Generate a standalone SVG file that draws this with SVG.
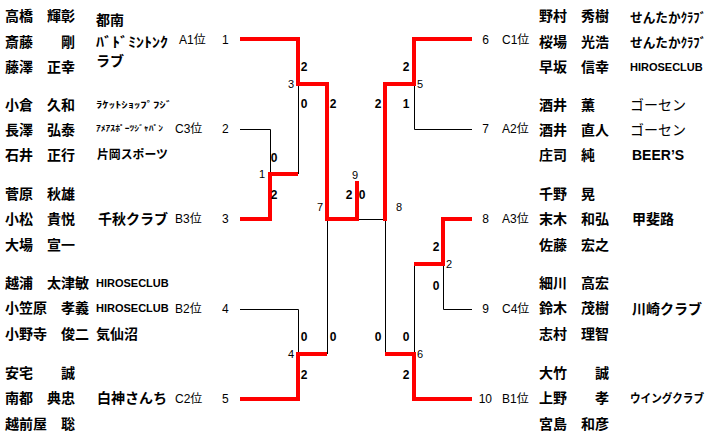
<svg xmlns="http://www.w3.org/2000/svg" width="713" height="439" viewBox="0 0 713 439">
<style>
.nm{font:bold 14px "Noto Sans CJK JP",sans-serif;fill:#000}
.tm{font:bold 14px "Noto Sans CJK JP",sans-serif;fill:#000}
.hw{font:bold 11px "Liberation Sans",sans-serif;fill:#000}
.sd{font:12px "Liberation Sans","Noto Sans CJK JP",sans-serif;fill:#000}
.sc{font:bold 12px "Liberation Sans",sans-serif;fill:#000;text-anchor:middle}
.nd{font:11px "Liberation Sans",sans-serif;fill:#000;text-anchor:middle}
.bk{fill:none;stroke:#000;stroke-width:1}
.rd{fill:none;stroke:#f00;stroke-width:4;stroke-linejoin:miter}
</style>
<rect width="713" height="439" fill="#fff"/>
<g id="connectors">
<path class="bk" d="M240 129.5H270.5V174M298.5 84V174M240 309.5H298.5V354M327.5 219V354M357 219.5H385M385.5 219V354M414.5 84V129.5H472M414.5 264V354M443.5 264V309.5H472"/>
<path class="rd" d="M240 39H298V84H327V219H357V181"/>
<path class="rd" d="M472 39H414V84H385V221"/>
<path class="rd" d="M240 219H270V174H298"/>
<path class="rd" d="M240 399H298V354H327"/>
<path class="rd" d="M472 219H443V264H414"/>
<path class="rd" d="M472 399H414V354H385"/>
</g>
<g id="scores">
<text class="sc" x="304" y="71">2</text>
<text class="nd" x="291" y="88">3</text>
<text class="sc" x="304" y="108">0</text>
<text class="sc" x="333" y="108">2</text>
<text class="sc" x="274" y="162">0</text>
<text class="nd" x="262" y="178">1</text>
<text class="sc" x="274" y="199">2</text>
<text class="nd" x="320" y="211">7</text>
<text class="nd" x="355" y="179">9</text>
<text class="sc" x="349" y="199">2</text>
<text class="sc" x="362" y="199">0</text>
<text class="nd" x="399" y="211">8</text>
<text class="sc" x="378" y="108">2</text>
<text class="sc" x="406" y="108">1</text>
<text class="sc" x="406" y="71">2</text>
<text class="nd" x="420" y="88">5</text>
<text class="sc" x="436" y="251">2</text>
<text class="nd" x="449" y="268">2</text>
<text class="sc" x="436" y="290">0</text>
<text class="sc" x="304" y="341">0</text>
<text class="sc" x="333" y="341">0</text>
<text class="sc" x="378" y="341">0</text>
<text class="sc" x="406" y="341">0</text>
<text class="nd" x="291" y="358">4</text>
<text class="nd" x="420" y="358">6</text>
<text class="sc" x="304" y="379">2</text>
<text class="sc" x="406" y="379">2</text>
</g>
<g id="team1">
<text class="nm" x="5" y="21">高橋　輝彰</text>
<text class="nm" x="5" y="47">斎藤　　剛</text>
<text class="nm" x="5" y="72">藤澤　正幸</text>
<text class="tm" x="96" y="25">都南</text>
<text class="tm" x="96" y="47" textLength="72" lengthAdjust="spacingAndGlyphs">ﾊﾞﾄﾞﾐﾝﾄﾝｸ</text>
<text class="tm" x="96" y="66">ラブ</text>
<text class="sd" x="179" y="44">A1位</text>
<text class="sd" x="222" y="44">1</text>
</g>
<g id="team2">
<text class="nm" x="5" y="110">小倉　久和</text>
<text class="nm" x="5" y="135">長澤　弘泰</text>
<text class="nm" x="5" y="160">石井　正行</text>
<text class="tm" x="96" y="108" style="font-size:9px" textLength="76" lengthAdjust="spacingAndGlyphs">ﾗｹｯﾄｼｮｯﾌﾟﾌｼﾞ</text>
<text class="tm" x="96" y="131" style="font-size:8px" textLength="67" lengthAdjust="spacingAndGlyphs">ｱﾒｱｽﾎﾟｰﾂｼﾞｬﾊﾟﾝ</text>
<text class="tm" x="97" y="159" style="font-size:12px" textLength="71" lengthAdjust="spacingAndGlyphs">片岡スポーツ</text>
<text class="sd" x="175" y="133">C3位</text>
<text class="sd" x="222" y="133">2</text>
</g>
<g id="team3">
<text class="nm" x="5" y="199">菅原　秋雄</text>
<text class="nm" x="5" y="224">小松　貴悦</text>
<text class="nm" x="5" y="250">大場　宣一</text>
<text class="tm" x="98" y="224">千秋クラブ</text>
<text class="sd" x="175" y="223">B3位</text>
<text class="sd" x="222" y="223">3</text>
</g>
<g id="team4">
<text class="nm" x="5" y="288">越浦　太津敏</text>
<text class="nm" x="5" y="313">小笠原　孝義</text>
<text class="nm" x="5" y="339">小野寺　俊二</text>
<text class="hw" x="96" y="287">HIROSECLUB</text>
<text class="hw" x="96" y="312">HIROSECLUB</text>
<text class="tm" x="96" y="339">気仙沼</text>
<text class="sd" x="175" y="313">B2位</text>
<text class="sd" x="222" y="313">4</text>
</g>
<g id="team5">
<text class="nm" x="5" y="378">安宅　　誠</text>
<text class="nm" x="5" y="403">南都　典忠</text>
<text class="nm" x="5" y="429">越前屋　聡</text>
<text class="tm" x="97" y="403">白神さんち</text>
<text class="sd" x="175" y="403">C2位</text>
<text class="sd" x="222" y="403">5</text>
</g>
<g id="team6">
<text class="nm" x="539" y="21">野村　秀樹</text>
<text class="nm" x="539" y="47">桜場　光浩</text>
<text class="nm" x="539" y="72">早坂　信幸</text>
<text class="tm" x="630" y="22" style="font-size:13px" textLength="76" lengthAdjust="spacingAndGlyphs">せんたかｸﾗﾌﾞ</text>
<text class="tm" x="630" y="47" style="font-size:13px" textLength="76" lengthAdjust="spacingAndGlyphs">せんたかｸﾗﾌﾞ</text>
<text class="hw" x="630" y="71">HIROSECLUB</text>
<text class="sd" x="489" y="44" text-anchor="end">6</text>
<text class="sd" x="502" y="44">C1位</text>
</g>
<g id="team7">
<text class="nm" x="539" y="110">酒井　薫</text>
<text class="nm" x="539" y="135">酒井　直人</text>
<text class="nm" x="539" y="160">庄司　純</text>
<text class="tm" x="630" y="110" style="font-weight:normal">ゴーセン</text>
<text class="tm" x="630" y="135" style="font-weight:normal">ゴーセン</text>
<text class="tm" x="632" y="160" style="font-family:'Liberation Sans',sans-serif">BEER’S</text>
<text class="sd" x="489" y="133" text-anchor="end">7</text>
<text class="sd" x="502" y="133">A2位</text>
</g>
<g id="team8">
<text class="nm" x="539" y="199">千野　晃</text>
<text class="nm" x="539" y="224">末木　和弘</text>
<text class="nm" x="539" y="250">佐藤　宏之</text>
<text class="tm" x="632" y="224">甲斐路</text>
<text class="sd" x="489" y="223" text-anchor="end">8</text>
<text class="sd" x="502" y="223">A3位</text>
</g>
<g id="team9">
<text class="nm" x="539" y="288">細川　高宏</text>
<text class="nm" x="539" y="313">鈴木　茂樹</text>
<text class="nm" x="539" y="339">志村　理智</text>
<text class="tm" x="632" y="314">川崎クラブ</text>
<text class="sd" x="489" y="313" text-anchor="end">9</text>
<text class="sd" x="502" y="313">C4位</text>
</g>
<g id="team10">
<text class="nm" x="539" y="378">大竹　　誠</text>
<text class="nm" x="539" y="403">上野　　孝</text>
<text class="nm" x="539" y="429">宮島　和彦</text>
<text class="tm" x="630" y="403" style="font-size:12px" textLength="74" lengthAdjust="spacingAndGlyphs">ウイングクラブ</text>
<text class="sd" x="492" y="403" text-anchor="end">10</text>
<text class="sd" x="502" y="403">B1位</text>
</g>
</svg>
